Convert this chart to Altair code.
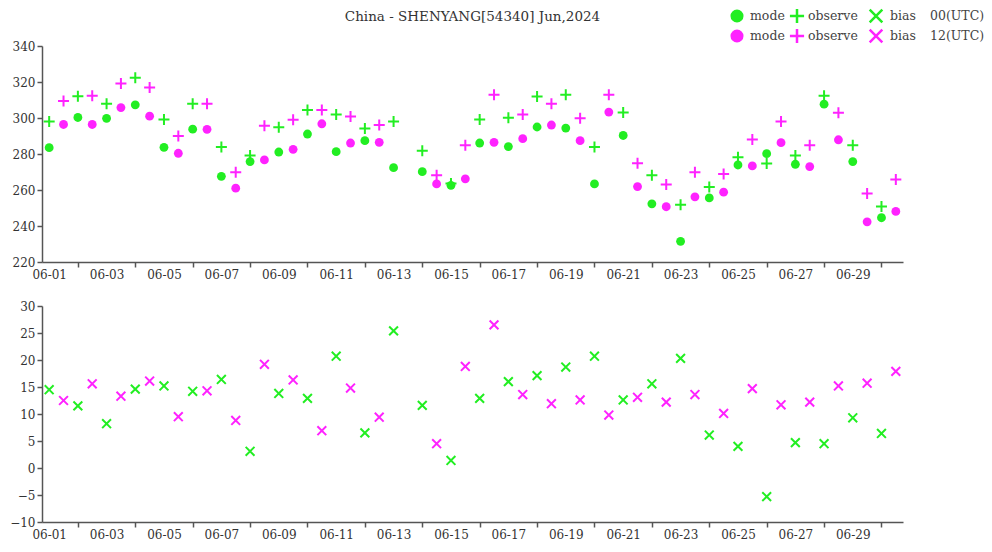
import json
import altair as alt
import pandas as pd

# ---------------- data ----------------
title_text = "China - SHENYANG[54340] Jun,2024"
days = list(range(30))                     # 06-01 .. 06-30
date_labels = ["06-01", "06-03", "06-05", "06-07", "06-09", "06-11", "06-13", "06-15",
               "06-17", "06-19", "06-21", "06-23", "06-25", "06-27", "06-29"]

mode_00 = [283.5, 300.3, 299.8, 307.3, 283.7, 293.8, 267.6, 275.8, 281.1, 291.1,
           281.3, 287.4, 272.4, 270.2, 262.6, 286.1, 284.1, 295.0, 294.4, 263.4,
           290.3, 252.3, 231.5, 255.6, 273.9, 280.2, 274.3, 307.7, 275.8, 244.6]
obs_00 = [298.0, 312.1, 307.9, 322.3, 299.2, 307.9, 283.9, 279.1, 294.8, 304.4,
          302.0, 294.2, 298.1, 281.8, 263.6, 299.2, 300.1, 311.9, 312.9, 283.9,
          303.1, 268.2, 251.8, 261.7, 278.2, 274.7, 279.1, 312.3, 284.8, 250.8]
bias_00 = [14.5, 11.5, 8.2, 14.6, 15.2, 14.2, 16.4, 3.1, 13.8, 12.9,
           20.7, 6.5, 25.4, 11.6, 1.4, 12.9, 16.0, 17.1, 18.7, 20.7,
           12.6, 15.6, 20.3, 6.1, 4.0, -5.3, 4.7, 4.5, 9.3, 6.4]

mode_12 = [296.4, 296.4, 305.8, 301.0, 280.4, 293.7, 261.0, 276.7, 282.6, 296.8,
           286.1, 286.5, None, 263.4, 266.2, 286.5, 288.5, 296.1, 287.4, 303.3,
           261.9, 250.7, 256.2, 258.8, 273.4, 286.3, 273.0, 287.9, 242.3, 248.1]
obs_12 = [309.4, 312.3, 319.1, 316.9, 290.0, 307.9, 269.8, 295.7, 299.0, 304.4,
          300.9, 296.1, None, 268.2, 284.8, 312.9, 302.0, 307.9, 299.9, 312.9,
          274.8, 263.0, 269.8, 268.9, 288.1, 298.1, 284.8, 302.9, 258.0, 265.8]
bias_12 = [12.5, 15.6, 13.3, 16.1, 9.5, 14.3, 8.8, 19.2, 16.3, 6.9,
           14.8, 9.4, None, 4.5, 18.8, 26.5, 13.6, 11.9, 12.6, 9.8,
           13.1, 12.2, 13.6, 10.1, 14.7, 11.7, 12.2, 15.2, 15.7, 17.9]

runs = ["00", "12"]
run_labels = ["00(UTC)", "12(UTC)"]
top_ticks = [220, 240, 260, 280, 300, 320, 340]
bottom_ticks = [-10, -5, 0, 5, 10, 15, 20, 25, 30]

# ---------------- styling ----------------
GREEN = "#22ee22"
MAGENTA = "#ff22ff"
FONT = "DejaVu Serif"
PLUS = "M-1,0L1,0M0,-1L0,1"
XSHAPE = "M-1,-1L1,1M-1,1L1,-1"
W = 861
TOP_H = 216
GAP = 44
H = TOP_H * 2 + GAP
PAD_TOP = 38

rows = []
for d in days:
    rows.append({"t": d, "run": "00", "mode": mode_00[d], "obs": obs_00[d], "bias": bias_00[d]})
    rows.append({"t": d + 0.5, "run": "12", "mode": mode_12[d], "obs": obs_12[d], "bias": bias_12[d]})
df = pd.DataFrame(rows)

color = alt.Color("run:N", scale=alt.Scale(domain=runs, range=[GREEN, MAGENTA]), legend=None)
x_scale = alt.Scale(domain=[-0.25, 29.75], nice=False, zero=False)
label_expr = "datum.value % 2 == 0 ? " + json.dumps(date_labels) + "[datum.value / 2] : ''"


def x_axis(offset):
    return alt.Axis(values=days, labelExpr=label_expr, orient="bottom", offset=offset,
                    tickOpacity={"condition": {"test": "datum.value % 2 == 1", "value": 1}, "value": 0},
                    labelOverlap=False, labelFlush=False, labelBound=False, title=None, grid=False)


top_y = alt.Scale(domain=[220, 340], range=[TOP_H, 0], nice=False, zero=False)
top_y_axis = alt.Axis(values=top_ticks, orient="left", title=None, grid=False)
bot_y = alt.Scale(domain=[-10, 30], range=[H, TOP_H + GAP], nice=False, zero=False)
bot_y_axis = alt.Axis(values=bottom_ticks, orient="left", title=None, grid=False)

base = alt.Chart(df)
dots = base.mark_circle(size=78, opacity=1).encode(
    x=alt.X("t:Q", scale=x_scale, axis=x_axis(-(H - TOP_H))),
    y=alt.Y("mode:Q", scale=top_y, axis=top_y_axis),
    color=color,
)
plus = base.mark_point(shape=PLUS, size=121, strokeWidth=2, filled=False, opacity=1).encode(
    x=alt.X("t:Q", scale=x_scale, axis=x_axis(-(H - TOP_H))),
    y=alt.Y("obs:Q", scale=top_y, axis=top_y_axis),
    color=color,
)
top = alt.layer(dots, plus)

bottom = base.mark_point(shape=XSHAPE, size=78, strokeWidth=2, filled=False, opacity=1).encode(
    x=alt.X("t:Q", scale=x_scale, axis=x_axis(0)),
    y=alt.Y("bias:Q", scale=bot_y, axis=bot_y_axis),
    color=color,
)

one = pd.DataFrame({"k": [0]})
title = alt.Chart(pd.DataFrame({"title": [title_text]})).mark_text(
    font=FONT, fontSize=13.5, color="#333", align="center", baseline="middle"
).encode(x=alt.value(W / 2), y=alt.value(-29), text="title:N")

legend_layers = []
for i, (run, col, lab) in enumerate(zip(runs, [GREEN, MAGENTA], run_labels)):
    yy = -30 + 20 * i
    legend_layers.append(alt.Chart(one).mark_circle(size=170, color=col, opacity=1)
                         .encode(x=alt.value(695), y=alt.value(yy)))
    legend_layers.append(alt.Chart(one).mark_point(shape=PLUS, size=200, strokeWidth=2.5, color=col,
                                                   filled=False, opacity=1)
                         .encode(x=alt.value(755), y=alt.value(yy)))
    legend_layers.append(alt.Chart(one).mark_point(shape=XSHAPE, size=160, strokeWidth=2.5, color=col,
                                                   filled=False, opacity=1)
                         .encode(x=alt.value(834), y=alt.value(yy)))
    for txt, xx in [("mode", 708), ("observe", 766), ("bias", 848), (lab, 888)]:
        legend_layers.append(
            alt.Chart(pd.DataFrame({"s": [txt]})).mark_text(
                font=FONT, fontSize=12.5, color="#444", align="left", baseline="middle"
            ).encode(x=alt.value(xx), y=alt.value(yy), text="s:N"))

chart = alt.layer(top, bottom, title, *legend_layers).resolve_scale(
    x="independent", y="independent", color="shared"
).resolve_axis(x="independent", y="independent").properties(
    width=W, height=H,
    autosize=alt.AutoSizeParams(type="none"),
    padding={"left": 34, "top": PAD_TOP, "right": 81, "bottom": 536 - PAD_TOP - H},
).configure_view(strokeWidth=0).configure_axis(
    domainColor="#555", tickColor="#555", labelColor="#333", labelFont=FONT,
    labelFontSize=12, tickSize=5, domainWidth=1.5, tickWidth=1.5, labelPadding=2,
)

chart.save("out.html", embed_options={"renderer": "svg", "actions": False})
